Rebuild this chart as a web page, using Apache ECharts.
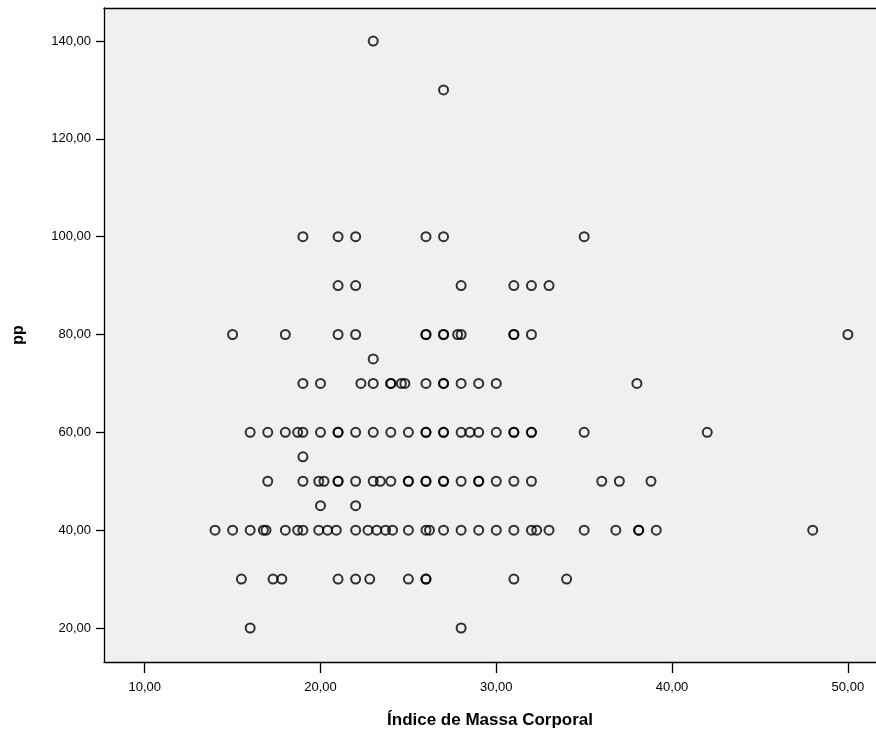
<!DOCTYPE html>
<html>
<head>
<meta charset="utf-8">
<title>pp x Índice de Massa Corporal</title>
<script src="https://cdn.jsdelivr.net/npm/echarts@6/dist/echarts.min.js"></script>
<style>
  html, body { margin: 0; padding: 0; background: #fff; }
  #chart { width: 876px; height: 736px; }
</style>
</head>
<body>
<div id="chart"></div>
<script>
// pp levels and the IMC values observed at each level
const ppLevels = [140, 130, 100, 90, 80, 75, 70, 60, 55, 50, 45, 40, 30, 20];
const imcAt140 = [23];
const imcAt130 = [27];
const imcAt100 = [19, 21, 22, 26, 27, 35];
const imcAt90 = [21, 22, 28, 31, 32, 33];
const imcAt80 = [15, 18, 21, 22, 26, 26, 27, 27, 27.8, 28, 31, 31, 32, 50];
const imcAt75 = [23];
const imcAt70 = [19, 20, 22.3, 23, 24, 24, 24.6, 24.8, 26, 27, 27, 28, 29, 30, 38];
const imcAt60 = [16, 17, 18, 18.7, 19, 20, 21, 21, 22, 23, 24, 25, 26, 26, 27, 27, 28, 28.5, 29, 30, 31, 31, 32, 32, 35, 42];
const imcAt55 = [19];
const imcAt50 = [17, 19, 19.9, 20.2, 21, 21, 22, 23, 23.4, 24, 25, 25, 26, 26, 27, 27, 28, 29, 29, 30, 31, 32, 36, 37, 38.8];
const imcAt45 = [20, 22];
const imcAt40 = [14, 15, 16, 16.75, 16.9, 18, 18.7, 19, 19.9, 20.4, 20.9, 22, 22.7, 23.2, 23.7, 24.1, 25, 26, 26.2, 27, 28, 29, 30, 31, 32, 32.3, 33, 35, 36.8, 38.1, 38.1, 39.1, 48];
const imcAt30 = [15.5, 17.3, 17.8, 21, 22, 22.8, 25, 26, 26, 31, 34];
const imcAt20 = [16, 28];

const xTicks = [10, 20, 30, 40, 50];
const yTicks = [20, 40, 60, 80, 100, 120, 140];

const imcByLevel = [imcAt140, imcAt130, imcAt100, imcAt90, imcAt80, imcAt75, imcAt70,
  imcAt60, imcAt55, imcAt50, imcAt45, imcAt40, imcAt30, imcAt20];

const points = [];
ppLevels.forEach((pp, i) => {
  imcByLevel[i].forEach(imc => points.push([imc, pp]));
});

const fmt = v => v.toFixed(2).replace('.', ',');
const font = '"Liberation Sans", Arial, sans-serif';
const xMin = 7.685, xMax = 51.6;

const chart = echarts.init(document.getElementById('chart'));
chart.setOption({
  animation: false,
  grid: {
    left: 104,
    top: 8,
    right: 0,
    bottom: 74,
    show: true,
    backgroundColor: '#f0f0f0',
    borderWidth: 0
  },
  xAxis: [{
    type: 'value',
    min: xMin,
    max: xMax,
    name: 'Índice de Massa Corporal',
    nameLocation: 'middle',
    nameGap: 50,
    nameTextStyle: { fontFamily: font, fontSize: 17, fontWeight: 'bold', color: '#000' },
    axisLine: { show: true, lineStyle: { color: '#000', width: 1.3 } },
    axisTick: { show: true, length: 11, lineStyle: { color: '#000', width: 1.3 }, customValues: xTicks },
    axisLabel: {
      customValues: xTicks,
      formatter: fmt,
      margin: 19,
      fontFamily: font,
      fontSize: 13,
      color: '#000'
    },
    splitLine: { show: false }
  }, {
    // top frame line only
    type: 'value',
    position: 'top',
    min: xMin,
    max: xMax,
    axisLine: { show: true, lineStyle: { color: '#000', width: 1.3 } },
    axisTick: { show: false },
    axisLabel: { show: false },
    splitLine: { show: false }
  }],
  yAxis: {
    type: 'value',
    min: 13.05,
    max: 146.75,
    name: 'pp',
    nameLocation: 'middle',
    nameGap: 77,
    nameTextStyle: { fontFamily: font, fontSize: 16, fontWeight: 'bold', color: '#000' },
    axisLine: { show: true, lineStyle: { color: '#000', width: 1.3 } },
    axisTick: { show: true, length: 8, lineStyle: { color: '#000', width: 1.3 }, customValues: yTicks },
    axisLabel: {
      customValues: yTicks,
      formatter: fmt,
      margin: 13,
      fontFamily: font,
      fontSize: 13,
      color: '#000'
    },
    splitLine: { show: false }
  },
  series: [{
    type: 'scatter',
    data: points,
    symbol: 'circle',
    symbolSize: 9,
    itemStyle: { color: 'rgba(0,0,0,0)', borderColor: '#000', borderWidth: 2 },
    emphasis: { disabled: true }
  }]
});
</script>
</body>
</html>
